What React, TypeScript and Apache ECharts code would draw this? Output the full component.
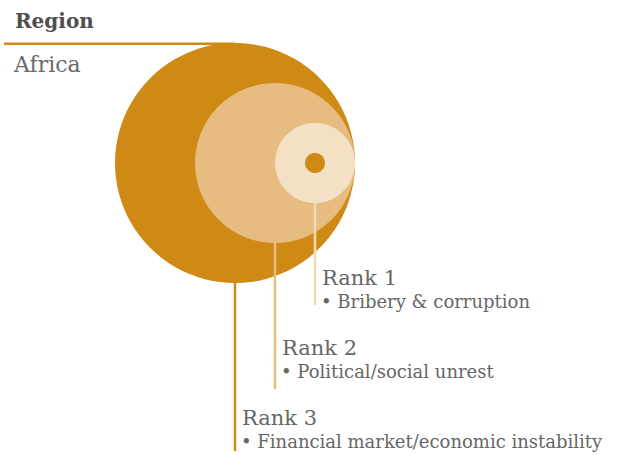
import React, { useEffect, useRef } from "react";
import * as echarts from "echarts";

const regionTitle = "Region";
const regionName = "Africa";
const ranks = [3, 2, 1];
const rankLabels = ["Rank 3", "Rank 2", "Rank 1"];
const risks = [
  "Financial market/economic instability",
  "Political/social unrest",
  "Bribery & corruption",
];

const circleColors: Record<number, string> = { 3: "#CE8A14", 2: "#E6BC80", 1: "#F4E0C4" };
const lineColors: Record<number, string> = { 3: "#CE8A14", 2: "#E6BC80", 1: "#F0D8B6" };
const lineExtent: Record<number, number> = { 3: 288, 2: 226, 1: 142 };
const FONT = "'DejaVu Serif', serif";

export default function App() {
  const ref = useRef<HTMLDivElement>(null);
  useEffect(() => {
    if (!ref.current) return;
    const chart = echarts.init(ref.current, undefined, { renderer: "svg" });
    const maxRank = Math.max(...ranks);
    const data = ranks.map((r, i) => [r, maxRank * 2 - r, maxRank, i]);
    chart.setOption({
      animation: false,
      grid: { left: 115, top: 43, width: 240, height: 240 },
      xAxis: { type: "value", min: 0, max: maxRank * 2, show: false },
      yAxis: { type: "value", min: 0, max: maxRank * 2, inverse: true, show: false },
      graphic: [
        {
          type: "text",
          x: 15,
          y: 21,
          style: {
            text: regionTitle,
            font: `bold 20px ${FONT}`,
            fill: "#4f4f4f",
            verticalAlign: "middle",
            align: "left",
          },
        },
        {
          type: "text",
          x: 14,
          y: 64,
          style: {
            text: regionName,
            font: `22px ${FONT}`,
            fill: "#6a6a6a",
            verticalAlign: "middle",
            align: "left",
          },
        },
      ],
      series: [
        {
          type: "custom",
          clip: false,
          data,
          renderItem: (params: any, api: any) => {
            const rank = api.value(0);
            const idx = api.value(3);
            const [px, py] = api.coord([api.value(1), api.value(2)]);
            const r = api.size([rank, 0])[0];
            const labelY = py + 115 + 70 * (rank - 1);
            const children: any[] = [
              {
                type: "circle",
                shape: { cx: px, cy: py, r },
                style: { fill: circleColors[rank] },
              },
              {
                type: "line",
                shape: { x1: px, y1: py + r, x2: px, y2: py + lineExtent[rank] },
                style: { stroke: lineColors[rank], lineWidth: 2.5 },
              },
              {
                type: "text",
                x: px + 7,
                y: labelY,
                style: {
                  text: rankLabels[idx],
                  font: `21px ${FONT}`,
                  fill: "#666666",
                  verticalAlign: "middle",
                  align: "left",
                },
              },
              {
                type: "text",
                x: px + 6,
                y: labelY + 23,
                style: {
                  text: "\u2022 " + risks[idx],
                  font: `18px ${FONT}`,
                  fill: "#666666",
                  verticalAlign: "middle",
                  align: "left",
                },
              },
            ];
            if (rank === maxRank) {
              children.push({
                type: "line",
                shape: { x1: 4, y1: py - r + 0.8, x2: px, y2: py - r + 0.8 },
                style: { stroke: lineColors[rank], lineWidth: 2.5 },
              });
            }
            if (rank === 1) {
              children.push({
                type: "circle",
                shape: { cx: px, cy: py, r: r / 4 },
                style: { fill: circleColors[maxRank] },
              });
            }
            return { type: "group", children };
          },
        },
      ],
    });
    return () => chart.dispose();
  }, []);
  return (
    <div
      ref={ref}
      style={{ position: "fixed", left: 0, top: 0, width: 621, height: 455, background: "#fff" }}
    />
  );
}
